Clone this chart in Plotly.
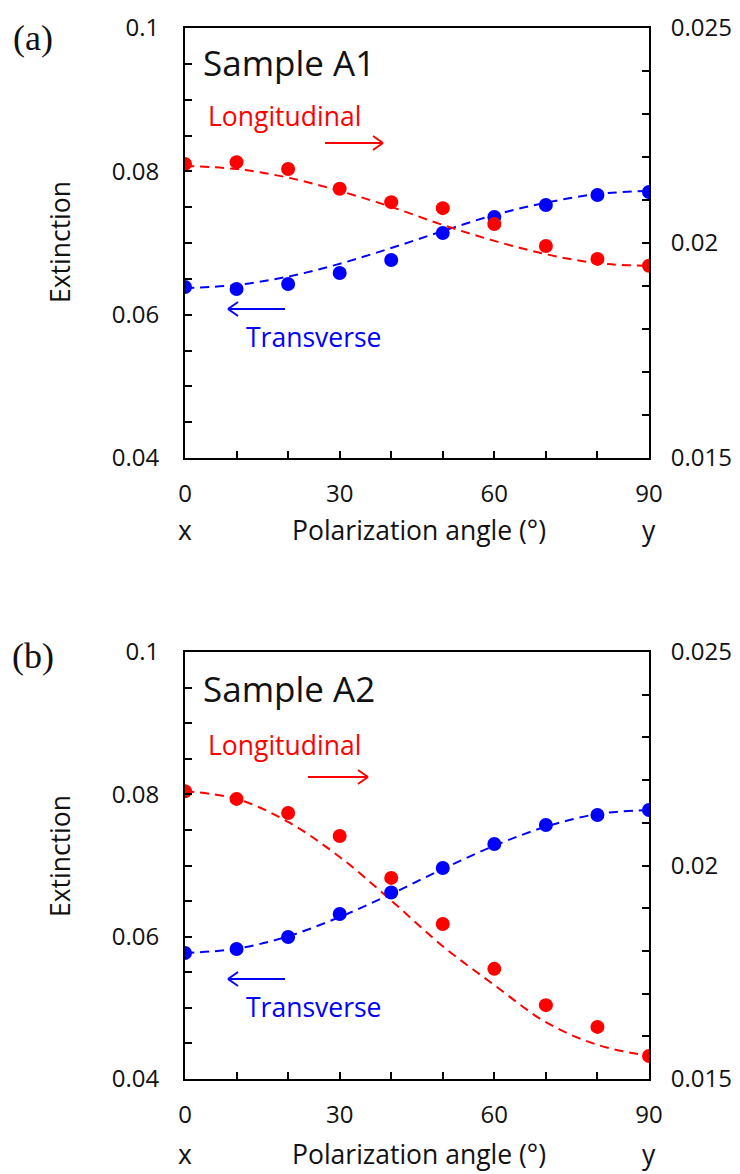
import plotly.graph_objects as go

angles = [0, 10, 20, 30, 40, 50, 60, 70, 80, 90]

# Panel (a) - Sample A1
a_trans = [0.06386, 0.06358, 0.06428, 0.06581, 0.06763, 0.07140, 0.07363, 0.07530, 0.07670, 0.07712]
a_long = [0.02184, 0.02188, 0.02172, 0.02126, 0.02095, 0.02081, 0.02044, 0.01993, 0.01963, 0.01947]
a_trans_fit = [0.06372, 0.06414, 0.06531, 0.06710, 0.06930, 0.07167, 0.07391, 0.07562, 0.07684, 0.07726]
a_long_fit = [0.02179, 0.02172, 0.02152, 0.02121, 0.02084, 0.02042, 0.02005, 0.01974, 0.01953, 0.01947]

# Panel (b) - Sample A2
b_trans = [0.05770, 0.05827, 0.05995, 0.06319, 0.06620, 0.06965, 0.07302, 0.07569, 0.07710, 0.07780]
b_long = [0.02174, 0.02156, 0.02123, 0.02069, 0.01971, 0.01863, 0.01758, 0.01673, 0.01622, 0.01554]
b_trans_fit = [0.05770, 0.05831, 0.06005, 0.06276, 0.06600, 0.06951, 0.07278, 0.07545, 0.07724, 0.07780]
b_long_fit = [0.02174, 0.02156, 0.02102, 0.02020, 0.01918, 0.01811, 0.01720, 0.01633, 0.01580, 0.01554]

left_ticks = [0.04, 0.045, 0.05, 0.055, 0.06, 0.065, 0.07, 0.075, 0.08, 0.085, 0.09, 0.095, 0.1]
left_labels = ["0.04", "", "", "", "0.06", "", "", "", "0.08", "", "", "", "0.1"]
right_ticks = [0.015, 0.016, 0.017, 0.018, 0.019, 0.02, 0.021, 0.022, 0.023, 0.024, 0.025]
right_labels = ["0.015", "", "", "", "", "0.02", "", "", "", "", "0.025"]
x_ticks = [0, 10, 20, 30, 40, 50, 60, 70, 80, 90]
x_labels = ["0", "", "", "30", "", "", "60", "", "", "90"]

RED = "#FF0000"
BLUE = "#0000FF"
FONT = "Open Sans"
TXT = "#111111"
TICKFONT = dict(family=FONT, size=24, color=TXT)

# page has an 8px body margin: figure is 732x1166, offset by 8px
OFF = 8
W, H = 740 - OFF, 1174 - OFF
def fx(x):
    return (x - OFF) / W
def fy(y):
    return 1 - (y - OFF) / H

fig = go.Figure()

def fit_line(y, xa, ya, color):
    fig.add_trace(go.Scatter(x=angles, y=y, mode="lines", xaxis=xa, yaxis=ya,
                             line=dict(color=color, width=2, dash="9px,6px", shape="spline"),
                             showlegend=False, hoverinfo="skip"))

def points(y, xa, ya, color, name):
    fig.add_trace(go.Scatter(x=angles, y=y, mode="markers", xaxis=xa, yaxis=ya,
                             marker=dict(color=color, size=14), showlegend=False, name=name))

# panel a: y (left, base) and y2 (right, overlay) -> red on top
fit_line(a_trans_fit, "x", "y", BLUE)
points(a_trans, "x", "y", BLUE, "Transverse")
fit_line(a_long_fit, "x", "y2", RED)
points(a_long, "x", "y2", RED, "Longitudinal")
# panel b: y3 (right, base) and y4 (left, overlay) -> blue on top
fit_line(b_long_fit, "x2", "y3", RED)
points(b_long, "x2", "y3", RED, "Longitudinal")
fit_line(b_trans_fit, "x2", "y4", BLUE)
points(b_trans, "x2", "y4", BLUE, "Transverse")

xdom = [fx(185), fx(649)]
dom_a = [fy(458), fy(28)]
dom_b = [fy(1079), fy(652)]

axline = dict(showline=True, linecolor="black", linewidth=2, ticks="inside", ticklen=7,
              tickwidth=2, tickcolor="black", showgrid=False, zeroline=False, tickfont=TICKFONT,
              automargin=False)

xa = dict(axline, domain=xdom, range=[0, 90], tickvals=x_ticks, ticktext=x_labels,
          mirror=True, ticklabelstandoff=13)
fig.update_layout(
    xaxis=dict(xa, anchor="y"),
    xaxis2=dict(xa, anchor="y3"),
    yaxis=dict(axline, domain=dom_a, range=[0.04, 0.1], tickvals=left_ticks, ticktext=left_labels,
               anchor="x", side="left", ticklabelstandoff=19),
    yaxis2=dict(axline, domain=dom_a, range=[0.015, 0.025], tickvals=right_ticks, ticktext=right_labels,
                anchor="x", side="right", overlaying="y", ticklabelstandoff=15),
    yaxis3=dict(axline, domain=dom_b, range=[0.015, 0.025], tickvals=right_ticks, ticktext=right_labels,
                anchor="x2", side="right", ticklabelstandoff=15),
    yaxis4=dict(axline, domain=dom_b, range=[0.04, 0.1], tickvals=left_ticks, ticktext=left_labels,
                anchor="x2", side="left", overlaying="y3", ticklabelstandoff=19),
)

ann = []
shapes = []
def text(x, y, t, size=24, color=TXT, family=FONT, xanchor="left", angle=0, yanchor="middle"):
    ann.append(dict(x=fx(x), y=fy(y), xref="paper", yref="paper", text=t, showarrow=False,
                    xanchor=xanchor, yanchor=yanchor, textangle=angle,
                    font=dict(family=family, size=size, color=color)))

def seg(x0, y0, x1, y1, color):
    shapes.append(dict(type="line", xref="paper", yref="paper", x0=fx(x0), y0=fy(y0),
                       x1=fx(x1), y1=fy(y1), line=dict(color=color, width=2)))

def arrow(x0, x1, y, color):
    seg(x0, y, x1, y, color)
    d = 1 if x1 > x0 else -1
    for dy in (-7, 7):
        seg(x1 - d * 10, y + dy, x1, y, color)

for (top, letter, sample, ly, la, ty, ta, xr1, xr2, tickrow, exty) in [
    (0, "(a)", "Sample A1", 116, 143, 337, 309, 325, 383, 530, 242),
    (1, "(b)", "Sample A2", 745, 777, 1007, 979, 308, 368, 1154, 856),
]:
    ypan = 38 if top == 0 else 656
    text(33, ypan, letter, size=36, family="Liberation Serif", xanchor="center")
    text(201, 62 if top == 0 else 688, sample, size=35)
    text(206, ly, "Longitudinal", size=26.5, color=RED)
    arrow(xr1, xr2, la, RED)
    text(244, ty, "Transverse", size=26.5, color=BLUE)
    arrow(285, 228, ta, BLUE)
    text(185, tickrow, "x", size=26.5, xanchor="center")
    text(649, tickrow, "y", size=26.5, xanchor="center")
    text(419, tickrow, "Polarization angle (°)", size=26.5, xanchor="center")
    text(60, exty, "Extinction", size=26.5, xanchor="center", angle=-90)

fig.update_layout(annotations=ann, shapes=shapes, width=W, height=H,
                  margin=dict(l=0, r=0, t=0, b=0, autoexpand=False),
                  paper_bgcolor="white", plot_bgcolor="white", showlegend=False)

fig.write_html("out.html")
